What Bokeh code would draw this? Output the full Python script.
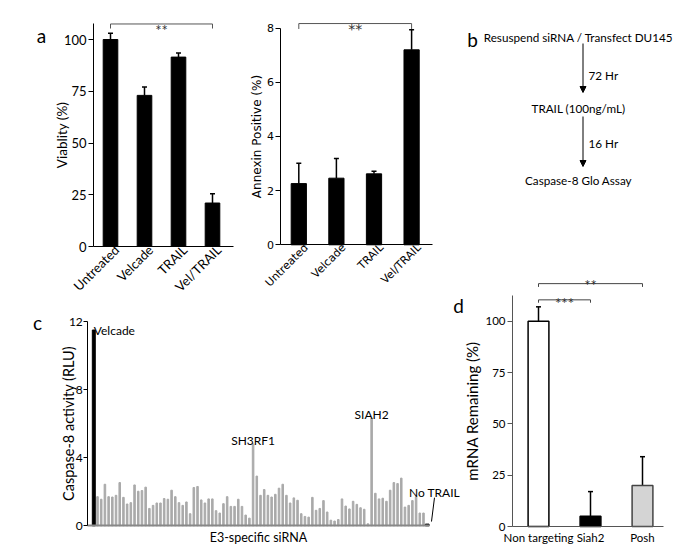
import numpy as np
from math import pi
from bokeh.plotting import figure
from bokeh.models import (Range1d, FixedTicker, Whisker, TeeHead, LinearAxis,
                          ColumnDataSource, Label, Arrow, NormalHead)
from bokeh.embed import file_html
from bokeh.resources import INLINE
from bokeh.core.properties import value

# ---------------- data ----------------
treatments = ["Untreated", "Velcade", "TRAIL", "Vel/TRAIL"]
viability = [100, 73, 91.5, 21]
viability_err = [3, 4, 2, 4.5]
annexin = [2.26, 2.46, 2.62, 7.2]
annexin_err = [0.75, 0.73, 0.10, 0.74]

workflow_steps = ["Resuspend siRNA / Transfect DU145", "TRAIL (100ng/mL)", "Caspase-8 Glo Assay"]
workflow_times = ["72 Hr", "16 Hr"]

caspase_velcade = 11.5
caspase_sirna = [1.71, 1.56, 2.44, 1.71, 1.69, 1.79, 2.54, 1.67, 1.28, 1.36,
                 2.40, 2.03, 2.07, 2.27, 1.02, 1.20, 1.34, 1.34, 1.60, 1.56,
                 2.09, 1.71, 1.36, 1.20, 1.40, 0.71, 2.25, 2.31, 1.52, 1.34,
                 1.58, 1.58, 0.89, 0.75, 1.30, 1.71, 1.14, 1.14, 1.56, 1.14,
                 0.63, 0.45, 4.81, 2.92, 1.79, 2.13, 1.79, 1.69, 1.85, 2.21,
                 2.44, 1.79, 1.34, 1.64, 1.50, 0.71, 0.55, 0.51, 1.67, 0.91,
                 1.02, 1.48, 0.81, 0.33, 0.28, 0.37, 1.58, 1.16, 0.99, 1.44,
                 1.26, 1.06, 0.97, 0.12, 6.31, 1.91, 1.58, 1.62, 1.44, 2.09,
                 2.54, 2.48, 2.80, 1.10, 1.20, 1.48, 1.71, 0.75, 0.75]
caspase_no_trail = 0.1
sirna_hits = ["SH3RF1", "SIAH2"]

mrna_targets = ["Non targeting", "Siah2", "Posh"]
mrna_remaining = [100, 5, 20]
mrna_err = [7, 12, 14]
mrna_fill = ["white", "black", "#d4d4d4"]
mrna_line = ["black", "black", "#444444"]

FONT = "Lato"

# ---------------- canvas geometry (page pixels) ----------------
X0, X1, Y0, Y1 = 0, 680, 0, 552


def xr(px, ppu, v=0.0):
    """x range in which data value v lands at page pixel px, ppu pixels per unit"""
    return Range1d(v - (px - X0) / ppu, v + (X1 - px) / ppu)


def yr(py, ppu, v=0.0):
    return Range1d(v - (Y1 - py) / ppu, v + (py - Y0) / ppu)


p = figure(width=X1 - X0, height=Y1 - Y0, x_range=Range1d(X0, X1), y_range=Range1d(Y1, Y0),
           min_border=0, x_axis_location=None, y_axis_location=None,
           output_backend="svg", toolbar_location=None)
p.outline_line_color = None
p.grid.visible = False
p.background_fill_color = "white"
p.border_fill_color = "white"

p.extra_x_ranges = {"a1x": xr(110, 34), "a2x": xr(298.3, 37.6),
                    "cx": xr(93.3, 3.7044), "dx": xr(538, 52)}
p.extra_y_ranges = {"a1y": yr(246, 2.07), "a2y": yr(244.3, 27.08),
                    "cy": yr(525.3, 17.025), "dy": yr(526, 2.053)}


def add_axis(side, xn, yn, loc, bounds, ticks, font, tick_size, label=None, label_size="13px",
             color="black", names=None, orientation=None, tick_out=5, show_ticks=True,
             label_standoff=2, axis_label_standoff=3, line_width=1, shift=0.0):
    tick_pos = [t + shift for t in ticks]
    ax = LinearAxis(x_range_name=xn, y_range_name=yn, fixed_location=loc, bounds=bounds,
                    ticker=FixedTicker(ticks=tick_pos))
    ax.axis_line_color = color
    ax.axis_line_width = line_width
    ax.major_tick_line_color = color if show_ticks else None
    ax.minor_tick_line_color = None
    ax.major_tick_in = 0
    ax.major_tick_out = tick_out if show_ticks else 0
    ax.major_label_text_font = font
    ax.major_label_text_font_size = tick_size
    ax.major_label_text_color = "black"
    ax.major_label_standoff = label_standoff
    if names:
        ax.major_label_overrides = {tp: nm for tp, nm in zip(tick_pos, names)}
    if orientation is not None:
        ax.major_label_orientation = orientation
    if label:
        ax.axis_label = label
        ax.axis_label_text_font = font
        ax.axis_label_text_font_size = label_size
        ax.axis_label_text_font_style = "normal"
        ax.axis_label_text_color = "black"
        ax.axis_label_standoff = axis_label_standoff
    p.add_layout(ax, side)
    return ax


def add_whiskers(xn, yn, xs, vals, errs, width=1.5, size=5):
    src = ColumnDataSource(dict(x=xs, lower=vals, upper=[v + e for v, e in zip(vals, errs)]))
    p.add_layout(Whisker(source=src, base="x", lower="lower", upper="upper",
                         x_range_name=xn, y_range_name=yn,
                         line_color="black", line_width=width,
                         upper_head=TeeHead(size=size, line_color="black", line_width=width),
                         lower_head=None))


def bracket(xn, yn, x0, x1, y_low, y_high, color="#555555"):
    p.line(x=[x0, x0, x1, x1], y=[y_low, y_high, y_high, y_low], line_color=color,
           line_width=1, x_range_name=xn, y_range_name=yn)


def stars(xn, yn, x, y, txt, font, size="15px"):
    p.add_layout(Label(x=x, y=y, text=txt, text_align="center", text_baseline="alphabetic",
                       x_range_name=xn, y_range_name=yn,
                       text_font=font, text_font_size=size, text_color="#333333"))


# ---------------- panel a (viability) ----------------
a_idx = list(range(len(treatments)))
p.vbar(x=a_idx, top=viability, width=0.43, color="black", x_range_name="a1x", y_range_name="a1y")
add_whiskers("a1x", "a1y", a_idx, viability, viability_err)
add_axis("left", "a1x", "a1y", -0.5, (0, 107.5), [0, 25, 50, 75, 100], FONT, "13px",
         label="Viablity (%)", label_size="13.5px", axis_label_standoff=-9)
add_axis("below", "a1x", "a1y", 0, (-0.5, 3.62), a_idx, FONT, "13px",
         names=treatments, orientation=pi / 4, show_ticks=False, label_standoff=1, shift=0.18)
bracket("a1x", "a1y", a_idx[0], a_idx[-1], 105.3, 107.5)
stars("a1x", "a1y", (a_idx[0] + a_idx[-1]) / 2, 104.6, "**", FONT)

# ---------------- panel a (annexin) ----------------
p.vbar(x=a_idx, top=annexin, width=0.405, color="black", x_range_name="a2x", y_range_name="a2y")
add_whiskers("a2x", "a2y", a_idx, annexin, annexin_err)
add_axis("left", "a2x", "a2y", -0.5, (0, 8), [0, 2, 4, 6, 8], "DejaVu Sans", "11px",
         label="Annexin Positive (%)", label_size="12px", label_standoff=1, axis_label_standoff=1)
add_axis("below", "a2x", "a2y", 0, (-0.5, 3.56), a_idx, "DejaVu Sans", "11px",
         names=treatments, orientation=pi / 4, show_ticks=False, label_standoff=1, shift=0.2)
bracket("a2x", "a2y", a_idx[0], a_idx[-1], 7.97, 8.17)
stars("a2x", "a2y", (a_idx[0] + a_idx[-1]) / 2, 7.97, "**", "DejaVu Sans", size="14px")

# ---------------- panel b (workflow, page coordinates) ----------------
p.text(x=[578] * len(workflow_steps), y=[36, 107, 179], text=workflow_steps,
       text_align="center", text_baseline="alphabetic",
       text_font=value(FONT), text_font_size="11.7px", text_color="black")
p.text(x=[588] * len(workflow_times), y=[74, 142], text=workflow_times,
       text_align="left", text_baseline="alphabetic",
       text_font=value(FONT), text_font_size="11.7px", text_color="black")
for y0, y1 in [(43, 92), (116, 166)]:
    p.add_layout(Arrow(x_start=582.5, y_start=y0, x_end=582.5, y_end=y1,
                       line_color="black", line_width=1,
                       end=NormalHead(size=6, fill_color="black", line_color="black")))

# ---------------- panel c (screen) ----------------
caspase_all = [caspase_velcade] + caspase_sirna + [caspase_no_trail]
n = len(caspase_all)
c_idx = list(range(n))
c_colors = ["black"] + ["#aaaaaa"] * len(caspase_sirna) + ["black"]
c_widths = [0.8] + [0.42] * len(caspase_sirna) + [1.0]
p.vbar(x=c_idx, top=caspase_all, width=c_widths, color=c_colors,
       x_range_name="cx", y_range_name="cy")
add_axis("left", "cx", "cy", -1.62, (0, 12), [0, 4, 8, 12], FONT, "12px",
         label="Caspase-8 activity (RLU)", label_size="14.5px", tick_out=4,
         label_standoff=1, axis_label_standoff=-11)
add_axis("below", "cx", "cy", 0, (-1.62, 90.7), [], FONT, "12px",
         label="E3-specific siRNA", label_size="12.5px", color="#888888",
         show_ticks=False, axis_label_standoff=4, line_width=2)

p.add_layout(Label(x=c_idx[0], y=caspase_velcade, text="Velcade", text_align="left",
                   x_range_name="cx", y_range_name="cy", text_baseline="alphabetic",
                   text_font=FONT, text_font_size="12px", text_color="black"))
hit_pos = sorted(np.argsort(caspase_sirna)[-len(sirna_hits):])
for name, gi in zip(sirna_hits, hit_pos):
    p.add_layout(Label(x=int(gi) + 1, y=caspase_sirna[gi] + 0.2, text=name, text_align="center",
                       x_range_name="cx", y_range_name="cy", text_baseline="alphabetic",
                       text_font=FONT, text_font_size="12px", text_color="black"))
last = c_idx[-1]
p.add_layout(Label(x=last + 1.97, y=caspase_no_trail + 1.84, text="No TRAIL", text_align="center",
                   x_range_name="cx", y_range_name="cy", text_baseline="alphabetic",
                   text_font=FONT, text_font_size="12px", text_color="black"))
p.add_layout(Arrow(x_start=last + 1.97, y_start=caspase_no_trail + 1.55, x_end=last + 1.16,
                   y_end=caspase_no_trail + 0.15, x_range_name="cx", y_range_name="cy",
                   line_color="black", line_width=1, end=None))

# ---------------- panel d (mRNA) ----------------
d_idx = list(range(len(mrna_targets)))
p.vbar(x=d_idx, top=mrna_remaining, width=0.4, fill_color=mrna_fill, line_color=mrna_line,
       line_width=1.5, x_range_name="dx", y_range_name="dy")
add_whiskers("dx", "dy", d_idx, mrna_remaining, mrna_err)
add_axis("left", "dx", "dy", -0.5, (0, 112.3), [0, 25, 50, 75, 100], FONT, "11.5px",
         label="mRNA Remaining (%)", label_size="15px", color="#555555",
         label_standoff=2, axis_label_standoff=1)
add_axis("below", "dx", "dy", 0, (-0.5, 2.4), d_idx, FONT, "11.5px",
         names=mrna_targets, color="#555555", show_ticks=False, label_standoff=4)
bracket("dx", "dy", d_idx[0], d_idx[1], 109.0, 110.4, color="#444444")
bracket("dx", "dy", d_idx[0], d_idx[2], 116.7, 118.3, color="#444444")
stars("dx", "dy", (d_idx[0] + d_idx[1]) / 2, 108.9, "***", FONT)
stars("dx", "dy", (d_idx[0] + d_idx[2]) / 2, 117.8, "**", FONT)

# ---------------- panel letters (page coordinates) ----------------
p.text(x=[41, 472, 37, 458], y=[35, 39, 322, 305], text=["a", "b", "c", "d"],
       text_align="center", text_baseline="alphabetic",
       text_font=value(FONT), text_font_size="19px", text_color="black")

open("out.html", "w").write(file_html(p, INLINE))
